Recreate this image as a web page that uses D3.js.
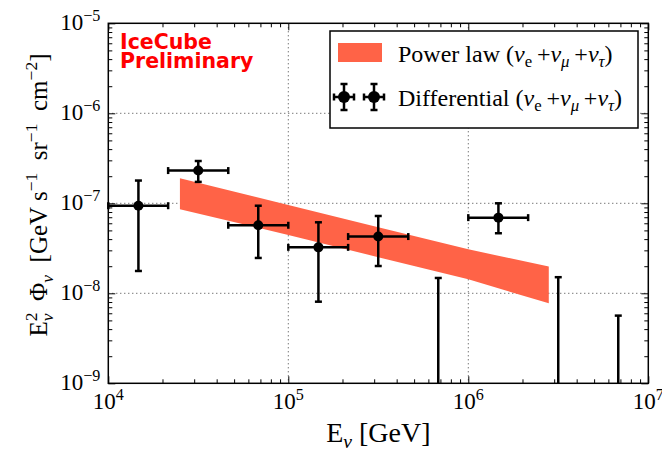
<!DOCTYPE html>
<html>
<head>
<meta charset="utf-8">
<script src="https://cdn.jsdelivr.net/npm/d3@7"></script>
<style>
  html, body { margin: 0; padding: 0; background: #fff; }
  svg { display: block; }
</style>
</head>
<body>
<svg id="chart" width="662" height="452"></svg>
<script>
// Differential flux bins (energy in GeV, E^2 Phi in GeV s^-1 sr^-1 cm^-2)
const binCentersGeV = [1.47e4, 3.16e4, 6.81e4, 1.47e5, 3.16e5, 1.47e6];
const binLowGeV     = [1.0e4, 2.15e4, 4.64e4, 1.0e5, 2.15e5, 1.0e6];
const binHighGeV    = [2.15e4, 4.64e4, 1.0e5, 2.15e5, 4.64e5, 2.15e6];
const fluxBest      = [9.4e-8, 2.31e-7, 5.7e-8, 3.24e-8, 4.27e-8, 6.93e-8];
const fluxErrHigh   = [1.79e-7, 2.95e-7, 9.4e-8, 6.15e-8, 7.23e-8, 1.0e-7];
const fluxErrLow    = [1.77e-8, 1.73e-7, 2.47e-8, 8.07e-9, 2.01e-8, 4.65e-8];

// Upper limits in the empty bins
const limitEnergyGeV = [6.81e5, 3.16e6, 6.81e6];
const limitFlux      = [1.48e-8, 1.51e-8, 5.65e-9];

// Power-law fit uncertainty band
const bandEnergyGeV = [2.5e4, 1.0e5, 3.16e5, 1.0e6, 2.8e6];
const bandUpper     = [1.9e-7, 9.57e-8, 5.43e-8, 3.08e-8, 1.98e-8];
const bandLower     = [8.57e-8, 4.45e-8, 2.52e-8, 1.43e-8, 7.74e-9];

// Axis ticks
const xMajorTicks = [1e4, 1e5, 1e6, 1e7];
const xTickExponents = ["4", "5", "6", "7"];
const yMajorTicks = [1e-9, 1e-8, 1e-7, 1e-6, 1e-5];
const yTickExponents = ["\u22129", "\u22128", "\u22127", "\u22126", "\u22125"];

const SERIF = "'Liberation Serif', 'Times New Roman', serif";
const BAND_COLOR = "#ff6347";

const plot = { left: 108.3, right: 648.3, top: 23.3, bottom: 383.3 };

const svg = d3.select("#chart");

const x = d3.scaleLog().domain([1e4, 1e7]).range([plot.left, plot.right]);
const y = d3.scaleLog().domain([1e-9, 1e-5]).range([plot.bottom, plot.top]);

// minor ticks: 2..9 within each decade
function minorTicks(lo, hi) {
  const out = [];
  for (let e = Math.round(Math.log10(lo)); e < Math.round(Math.log10(hi)); e++) {
    for (let m = 2; m <= 9; m++) out.push(m * Math.pow(10, e));
  }
  return out;
}

// Writes mixed roman / italic / sub / superscript runs into a <text> node
function mathText(textSel, parts, size) {
  let shift = 0;
  parts.forEach(p => {
    const pos = p.pos || 0;
    const small = pos !== 0;
    const target = pos === "sup" ? -0.42 * size : pos === "sub" ? 0.22 * size : 0;
    const ts = textSel.append("tspan")
      .attr("dy", target - shift)
      .attr("font-size", small ? size * 0.7 : size)
      .text(p.t);
    if (p.it) ts.attr("font-style", "italic");
    if (p.dx) ts.attr("dx", p.dx);
    shift = target;
  });
  return textSel;
}

// ---- grid ----
const grid = svg.append("g").attr("stroke", "#000").attr("stroke-width", 1)
  .attr("stroke-dasharray", "1,3").attr("opacity", 0.75);
grid.selectAll("line.gx").data(xMajorTicks.slice(1, -1)).join("line")
  .attr("x1", d => x(d)).attr("x2", d => x(d))
  .attr("y1", plot.top).attr("y2", plot.bottom);
grid.selectAll("line.gy").data(yMajorTicks.slice(1, -1)).join("line")
  .attr("y1", d => y(d)).attr("y2", d => y(d))
  .attr("x1", plot.left).attr("x2", plot.right);

// ---- power-law band ----
const bandData = bandEnergyGeV.map((e, i) => ({ e, hi: bandUpper[i], lo: bandLower[i] }));
svg.append("path")
  .datum(bandData)
  .attr("fill", BAND_COLOR)
  .attr("d", d3.area().x(d => x(d.e)).y0(d => y(d.lo)).y1(d => y(d.hi)));

// ---- differential points ----
const pts = binCentersGeV.map((e, i) => ({
  e, lo: binLowGeV[i], hi: binHighGeV[i],
  f: fluxBest[i], fHi: fluxErrHigh[i], fLo: fluxErrLow[i]
}));
const cap = 3.5;
const eb = svg.append("g").attr("stroke", "#000").attr("stroke-width", 2.5).attr("fill", "none");
pts.forEach(p => {
  const cx = x(p.e), cy = y(p.f);
  eb.append("line").attr("x1", x(p.lo)).attr("x2", x(p.hi)).attr("y1", cy).attr("y2", cy);
  eb.append("line").attr("x1", x(p.lo)).attr("x2", x(p.lo)).attr("y1", cy - cap).attr("y2", cy + cap);
  eb.append("line").attr("x1", x(p.hi)).attr("x2", x(p.hi)).attr("y1", cy - cap).attr("y2", cy + cap);
  eb.append("line").attr("x1", cx).attr("x2", cx).attr("y1", y(p.fHi)).attr("y2", y(p.fLo));
  eb.append("line").attr("x1", cx - cap).attr("x2", cx + cap).attr("y1", y(p.fHi)).attr("y2", y(p.fHi));
  eb.append("line").attr("x1", cx - cap).attr("x2", cx + cap).attr("y1", y(p.fLo)).attr("y2", y(p.fLo));
});
svg.append("g").selectAll("circle").data(pts).join("circle")
  .attr("cx", d => x(d.e)).attr("cy", d => y(d.f)).attr("r", 5).attr("fill", "#000");

// ---- upper limits ----
limitEnergyGeV.forEach((e, i) => {
  const cx = x(e), top = y(limitFlux[i]);
  eb.append("line").attr("x1", cx).attr("x2", cx).attr("y1", top).attr("y2", y(1e-9));
  eb.append("line").attr("x1", cx - cap).attr("x2", cx + cap).attr("y1", top).attr("y2", top);
});

// ---- ticks (inward on all four sides) ----
function tickAxis(axisFn, scale, values, size, transform) {
  svg.append("g").attr("transform", transform)
    .call(axisFn(scale).tickValues(values).tickSize(size).tickFormat(""))
    .call(g => g.select(".domain").remove())
    .call(g => g.selectAll("line").attr("stroke", "#000").attr("stroke-width", 1));
}
const xMinor = minorTicks(1e4, 1e7);
const yMinor = minorTicks(1e-9, 1e-5);
tickAxis(d3.axisBottom, x, xMajorTicks, -7, `translate(0,${plot.bottom})`);
tickAxis(d3.axisBottom, x, xMinor, -4, `translate(0,${plot.bottom})`);
tickAxis(d3.axisTop, x, xMajorTicks, -7, `translate(0,${plot.top})`);
tickAxis(d3.axisTop, x, xMinor, -4, `translate(0,${plot.top})`);
tickAxis(d3.axisLeft, y, yMajorTicks, -7, `translate(${plot.left},0)`);
tickAxis(d3.axisLeft, y, yMinor, -4, `translate(${plot.left},0)`);
tickAxis(d3.axisRight, y, yMajorTicks, -7, `translate(${plot.right},0)`);
tickAxis(d3.axisRight, y, yMinor, -4, `translate(${plot.right},0)`);

// ---- frame ----
svg.append("rect")
  .attr("x", plot.left).attr("y", plot.top)
  .attr("width", plot.right - plot.left).attr("height", plot.bottom - plot.top)
  .attr("fill", "none").attr("stroke", "#000").attr("stroke-width", 1.5);

// ---- tick labels ----
const TICK_SIZE = 23;
xMajorTicks.forEach((v, i) => {
  const t = svg.append("text")
    .attr("x", x(v)).attr("y", plot.bottom + 26)
    .attr("text-anchor", "middle")
    .attr("font-family", SERIF).attr("fill", "#000");
  mathText(t, [{ t: "10" }, { t: xTickExponents[i], pos: "sup" }], TICK_SIZE);
});
yMajorTicks.forEach((v, i) => {
  const t = svg.append("text")
    .attr("x", plot.left - 8).attr("y", y(v) + 7)
    .attr("text-anchor", "end")
    .attr("font-family", SERIF).attr("fill", "#000");
  mathText(t, [{ t: "10" }, { t: yTickExponents[i], pos: "sup" }], TICK_SIZE);
});

// ---- axis titles ----
mathText(
  svg.append("text")
    .attr("x", (plot.left + plot.right) / 2).attr("y", 442)
    .attr("text-anchor", "middle").attr("font-family", SERIF),
  [{ t: "E" }, { t: "\u03bd", it: true, pos: "sub" }, { t: "\u00a0[GeV]" }],
  28
);
const YL = 25;
mathText(
  svg.append("text")
    .attr("transform", "translate(47,195) rotate(-90)")
    .attr("text-anchor", "middle").attr("font-family", SERIF),
  [
    { t: "E" }, { t: "2", pos: "sup" },
    { t: "\u03bd", it: true, pos: "sub", dx: -YL * 0.35 },
    { t: "\u00a0\u00a0\u03a6" }, { t: "\u03bd", it: true, pos: "sub" },
    { t: "\u00a0\u00a0[GeV s" }, { t: "\u22121", pos: "sup" },
    { t: "\u00a0\u00a0sr" }, { t: "\u22121", pos: "sup" },
    { t: "\u00a0\u00a0cm" }, { t: "\u22122", pos: "sup" },
    { t: "]" }
  ],
  YL
);

// ---- IceCube Preliminary tag ----
const tag = svg.append("text")
  .attr("font-family", "'DejaVu Sans', sans-serif")
  .attr("font-weight", "bold").attr("font-size", 20.5).attr("fill", "#ff0000");
tag.append("tspan").attr("x", 120).attr("y", 49).text("IceCube");
tag.append("tspan").attr("x", 120).attr("y", 67.5).text("Preliminary");

// ---- legend ----
const leg = svg.append("g");
leg.append("rect")
  .attr("x", 330).attr("y", 31).attr("width", 308).attr("height", 97)
  .attr("fill", "#fff").attr("stroke", "#000").attr("stroke-width", 1.5);
leg.append("rect")
  .attr("x", 338).attr("y", 43).attr("width", 44).attr("height", 19)
  .attr("fill", BAND_COLOR);

const LEG_SIZE = 24;
const flavours = [
  { t: "(" }, { t: "\u03bd", it: true }, { t: "e", pos: "sub" },
  { t: "\u2009+" }, { t: "\u03bd", it: true }, { t: "\u03bc", it: true, pos: "sub" },
  { t: "\u2009+" }, { t: "\u03bd", it: true }, { t: "\u03c4", it: true, pos: "sub" },
  { t: ")" }
];
mathText(
  leg.append("text").attr("x", 398).attr("y", 62).attr("font-family", SERIF),
  [{ t: "Power law " }].concat(flavours), LEG_SIZE
);
mathText(
  leg.append("text").attr("x", 398).attr("y", 106).attr("font-family", SERIF),
  [{ t: "Differential " }].concat(flavours), LEG_SIZE
);

// legend errorbar glyphs
const lg = leg.append("g").attr("stroke", "#000").attr("stroke-width", 2.5);
[344, 374].forEach(cx => {
  const cy = 97, hw = 10, hh = 13;
  lg.append("line").attr("x1", cx - hw).attr("x2", cx + hw).attr("y1", cy).attr("y2", cy);
  lg.append("line").attr("x1", cx - hw).attr("x2", cx - hw).attr("y1", cy - cap).attr("y2", cy + cap);
  lg.append("line").attr("x1", cx + hw).attr("x2", cx + hw).attr("y1", cy - cap).attr("y2", cy + cap);
  lg.append("line").attr("x1", cx).attr("x2", cx).attr("y1", cy - hh).attr("y2", cy + hh);
  lg.append("line").attr("x1", cx - cap).attr("x2", cx + cap).attr("y1", cy - hh).attr("y2", cy - hh);
  lg.append("line").attr("x1", cx - cap).attr("x2", cx + cap).attr("y1", cy + hh).attr("y2", cy + hh);
  lg.append("circle").attr("cx", cx).attr("cy", cy).attr("r", 6).attr("fill", "#000").attr("stroke", "none");
});
</script>
</body>
</html>
